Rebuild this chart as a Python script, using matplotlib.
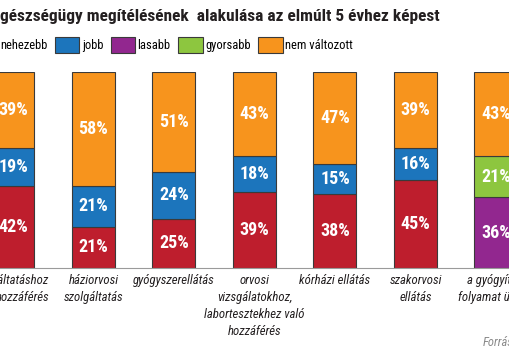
import numpy as np
import matplotlib.pyplot as plt
from matplotlib import font_manager
from matplotlib.transforms import ScaledTranslation

# ---------------- data ----------------
title = "gészségügy megítélésének  alakulása az elmúlt 5 évhez képest"
categories = ["szolgáltatáshoz\nhozzáférés", "háziorvosi\nszolgáltatás", "gyógyszerellátás",
              "orvosi\nvizsgálatokhoz,\nlabortesztekhez való\nhozzáférés",
              "kórházi ellátás", "szakorvosi\nellátás", "a gyógyítási\nfolyamat üteme"]
series_names = ["nehezebb", "jobb", "lasabb", "gyorsabb", "nem változott"]
nehezebb = [42, 21, 25, 39, 38, 45, 0]
jobb = [19, 21, 24, 18, 15, 16, 0]
lasabb = [0, 0, 0, 0, 0, 0, 36]
gyorsabb = [0, 0, 0, 0, 0, 0, 21]
nem_valtozott = [39, 58, 51, 43, 47, 39, 43]
colors = ["#BE1E2D", "#1C75BC", "#92278F", "#8DC63F", "#F7941D"]

# ---------------- fonts ----------------
available = {f.name for f in font_manager.fontManager.ttflist}
narrow = "DejaVu Sans"
for name in ["Liberation Sans Narrow", "DejaVu Sans Condensed", "Roboto Condensed", "Open Sans Condensed"]:
    if name in available:
        narrow = name
        break
plt.rcParams['font.family'] = [narrow, 'DejaVu Sans']

fig = plt.figure(figsize=(5.1, 3.5), dpi=100)
ax = fig.add_axes([0, (350 - 268) / 350, 1, (268 - 72) / 350])

x = np.arange(len(categories))
w = 43 / 80.5
stack = [nehezebb, jobb, lasabb, gyorsabb, nem_valtozott]
cum = np.zeros(len(x))
# stacking: lower (nehezebb/lasabb), middle (jobb/gyorsabb), top (nem változott)
layers = [(0, 2), (1, 3), (4,)]
for layer in layers:
    layer_height = np.zeros(len(x))
    for si in layer:
        vals = np.array(stack[si], dtype=float)
        m = vals > 0
        ax.bar(x[m], vals[m], w, bottom=cum[m], color=colors[si],
               edgecolor="#3a3a3a", linewidth=0.8, zorder=2)
        for xi, v, b in zip(x[m], vals[m], cum[m]):
            ax.text(xi, b + v / 2, f"{int(v)}%", ha="center", va="center",
                    color="white", fontsize=13, fontweight="bold", zorder=3)
        layer_height += vals
    cum += layer_height

ax.set_xlim(-13 / 80.5, (510 - 13) / 80.5)
ax.set_ylim(0, 100)
for s in ["top", "left", "right"]:
    ax.spines[s].set_visible(False)
ax.spines["bottom"].set_color("#9a9a9a")
ax.spines["bottom"].set_linewidth(0.8)
ax.set_yticks([])
ax.set_xticks(x)
ax.set_xticklabels(categories, fontsize=9.2, style="italic", color="#231F20", linespacing=1.42)
ax.tick_params(axis="x", length=0, pad=4)
lab0 = ax.get_xticklabels()[0]
lab0.set_ha("right")
lab0.set_multialignment("right")
lab0.set_transform(lab0.get_transform() + ScaledTranslation(36 / 100, 0, fig.dpi_scale_trans))

fig.text(0, 1 - 17 / 350, title, fontsize=12.5, fontweight="bold", color="#231F20",
         ha="left", va="center")

handles = [plt.Rectangle((0, 0), 1, 1, facecolor=c, edgecolor="#3a3a3a", linewidth=0.8) for c in colors]
fig.legend(handles, series_names, loc="center left", bbox_to_anchor=(-32 / 510, 1 - 45 / 350),
           ncol=5, frameon=False, fontsize=9, handlelength=1.95, handleheight=1.6,
           handletextpad=0.2, columnspacing=0.6, borderaxespad=0)

fig.text(483 / 510, 1 - 343 / 350, "Forrás", fontsize=9, style="italic", color="#8a8a8a",
         ha="left", va="center")

fig.savefig("out.png", dpi=100)
